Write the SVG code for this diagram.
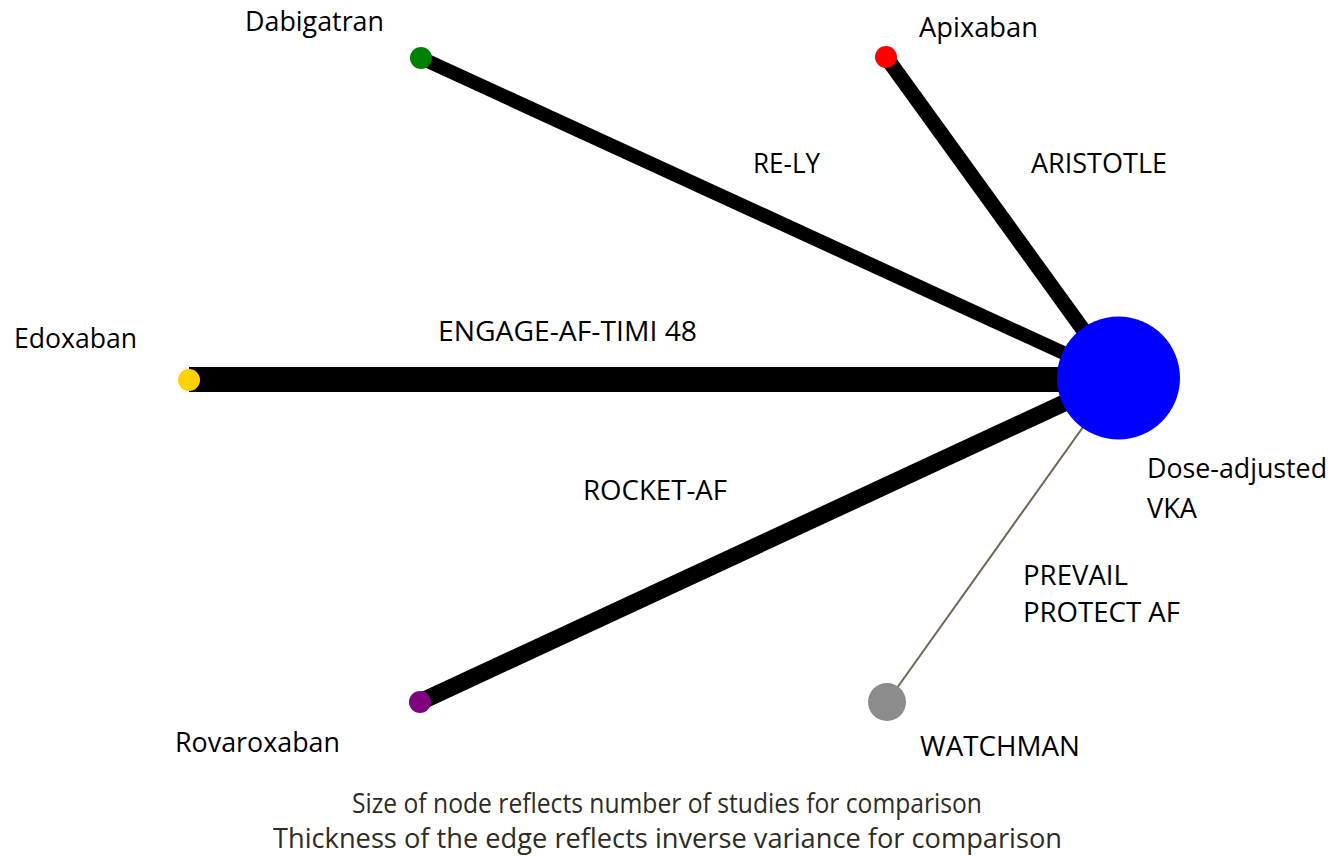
<svg xmlns="http://www.w3.org/2000/svg" width="1333" height="859" viewBox="0 0 1333 859">
<style>
.lbl{font-family:"Open Sans",Lato,"Liberation Sans",sans-serif;font-size:28px;fill:#000}
.note{font-family:"Open Sans",Lato,"Liberation Sans",sans-serif;font-size:28px;fill:#2e2b25}
.edge{stroke:#000;fill:none}
</style>
<rect width="1333" height="859" fill="#fff"/>
<g id="connectors">
<line class="edge" x1="421" y1="58" x2="1118" y2="378" stroke-width="14"/>
<line class="edge" x1="886" y1="57" x2="1118" y2="378" stroke-width="15"/>
<line class="edge" x1="189" y1="379.5" x2="1118" y2="379.5" stroke-width="25"/>
<line class="edge" x1="420" y1="702" x2="1118" y2="378" stroke-width="17"/>
<line x1="887" y1="702" x2="1118" y2="378" stroke="#6e6652" stroke-width="2"/>
</g>
<g id="edge-labels">
<text class="lbl" x="753" y="173" textLength="67" lengthAdjust="spacingAndGlyphs">RE-LY</text>
<text class="lbl" x="1031" y="173" textLength="136" lengthAdjust="spacingAndGlyphs">ARISTOTLE</text>
<text class="lbl" x="438" y="341" textLength="259" lengthAdjust="spacingAndGlyphs">ENGAGE-AF-TIMI 48</text>
<text class="lbl" x="583" y="500" textLength="144" lengthAdjust="spacingAndGlyphs">ROCKET-AF</text>
<text class="lbl" x="1023" y="585" textLength="105" lengthAdjust="spacingAndGlyphs">PREVAIL</text>
<text class="lbl" x="1023" y="622" textLength="157" lengthAdjust="spacingAndGlyphs">PROTECT AF</text>
</g>
<g id="node-dabigatran">
<circle cx="421" cy="58" r="11" fill="#008000"/>
<text class="lbl" x="245" y="31" textLength="139" lengthAdjust="spacingAndGlyphs">Dabigatran</text>
</g>
<g id="node-apixaban">
<circle cx="886" cy="57" r="11" fill="#ff0000"/>
<text class="lbl" x="919" y="37" textLength="119" lengthAdjust="spacingAndGlyphs">Apixaban</text>
</g>
<g id="node-edoxaban">
<circle cx="189" cy="380" r="11" fill="#ffd200"/>
<text class="lbl" x="14" y="348" textLength="123" lengthAdjust="spacingAndGlyphs">Edoxaban</text>
</g>
<g id="node-rovaroxaban">
<circle cx="420" cy="702" r="11" fill="#800080"/>
<text class="lbl" x="175" y="752" textLength="165" lengthAdjust="spacingAndGlyphs">Rovaroxaban</text>
</g>
<g id="node-watchman">
<circle cx="887" cy="702" r="19" fill="#8c8c8c"/>
<text class="lbl" x="920" y="756" textLength="160" lengthAdjust="spacingAndGlyphs">WATCHMAN</text>
</g>
<g id="node-vka">
<circle cx="1118.5" cy="378" r="61.5" fill="#0000ff"/>
<text class="lbl" x="1147" y="478" textLength="180" lengthAdjust="spacingAndGlyphs">Dose-adjusted</text>
<text class="lbl" x="1147" y="518" textLength="50" lengthAdjust="spacingAndGlyphs">VKA</text>
</g>
<g id="legend">
<text class="note" x="352" y="813" textLength="630" lengthAdjust="spacingAndGlyphs">Size of node reflects number of studies for comparison</text>
<text class="note" x="273" y="848" textLength="789" lengthAdjust="spacingAndGlyphs">Thickness of the edge reflects inverse variance for comparison</text>
</g>
</svg>
